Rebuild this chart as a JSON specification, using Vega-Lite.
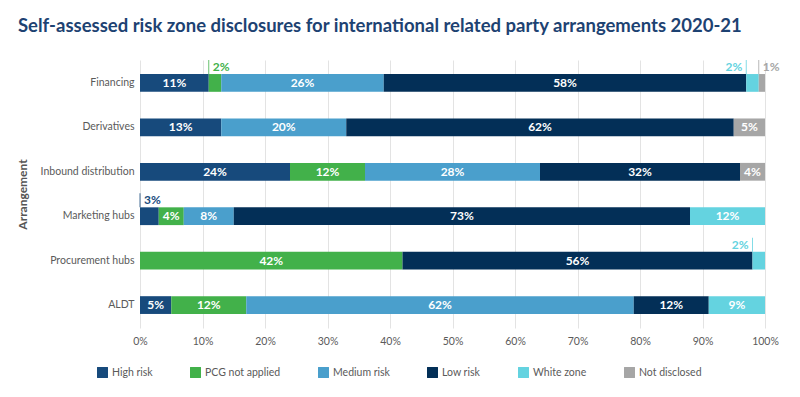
{
  "$schema": "https://vega.github.io/schema/vega-lite/v6.json",
  "width": 625,
  "height": 268,
  "autosize": "none",
  "padding": {"left": 140, "top": 60, "right": 35, "bottom": 69},
  "background": "white",
  "config": {"font": "Lato", "view": {"stroke": null}},
  "title": {
    "text": "Self-assessed risk zone disclosures for international related party arrangements 2020-21",
    "anchor": "start",
    "frame": "group",
    "dx": -122,
    "offset": 9,
    "baseline": "alphabetic",
    "fontSize": 18.5,
    "fontWeight": "bold",
    "color": "#1d4272"
  },
  "datasets": {
    "rows": [
      {"arrangement": "Financing", "category": "High risk", "value": 0.11},
      {"arrangement": "Financing", "category": "PCG not applied", "value": 0.02},
      {"arrangement": "Financing", "category": "Medium risk", "value": 0.26},
      {"arrangement": "Financing", "category": "Low risk", "value": 0.58},
      {"arrangement": "Financing", "category": "White zone", "value": 0.02},
      {"arrangement": "Financing", "category": "Not disclosed", "value": 0.01},
      {"arrangement": "Derivatives", "category": "High risk", "value": 0.13},
      {"arrangement": "Derivatives", "category": "Medium risk", "value": 0.20},
      {"arrangement": "Derivatives", "category": "Low risk", "value": 0.62},
      {"arrangement": "Derivatives", "category": "Not disclosed", "value": 0.05},
      {"arrangement": "Inbound distribution", "category": "High risk", "value": 0.24},
      {"arrangement": "Inbound distribution", "category": "PCG not applied", "value": 0.12},
      {"arrangement": "Inbound distribution", "category": "Medium risk", "value": 0.28},
      {"arrangement": "Inbound distribution", "category": "Low risk", "value": 0.32},
      {"arrangement": "Inbound distribution", "category": "Not disclosed", "value": 0.04},
      {"arrangement": "Marketing hubs", "category": "High risk", "value": 0.03},
      {"arrangement": "Marketing hubs", "category": "PCG not applied", "value": 0.04},
      {"arrangement": "Marketing hubs", "category": "Medium risk", "value": 0.08},
      {"arrangement": "Marketing hubs", "category": "Low risk", "value": 0.73},
      {"arrangement": "Marketing hubs", "category": "White zone", "value": 0.12},
      {"arrangement": "Procurement hubs", "category": "PCG not applied", "value": 0.42},
      {"arrangement": "Procurement hubs", "category": "Low risk", "value": 0.56},
      {"arrangement": "Procurement hubs", "category": "White zone", "value": 0.02},
      {"arrangement": "ALDT", "category": "High risk", "value": 0.05},
      {"arrangement": "ALDT", "category": "PCG not applied", "value": 0.12},
      {"arrangement": "ALDT", "category": "Medium risk", "value": 0.62},
      {"arrangement": "ALDT", "category": "Low risk", "value": 0.12},
      {"arrangement": "ALDT", "category": "White zone", "value": 0.09}
    ],
    "cats": [
      {"category": "High risk", "rank": 1},
      {"category": "PCG not applied", "rank": 2},
      {"category": "Medium risk", "rank": 3},
      {"category": "Low risk", "rank": 4},
      {"category": "White zone", "rank": 5},
      {"category": "Not disclosed", "rank": 6}
    ]
  },
  "data": {"name": "rows"},
  "transform": [
    {"lookup": "category", "from": {"data": {"name": "cats"}, "key": "category", "fields": ["rank"]}}
  ],
  "encoding": {
    "y": {
      "field": "arrangement",
      "type": "nominal",
      "sort": ["Financing", "Derivatives", "Inbound distribution", "Marketing hubs", "Procurement hubs", "ALDT"],
      "scale": {"paddingInner": 0.6, "paddingOuter": 0.316},
      "axis": {
        "title": "Arrangement",
        "titleFontSize": 12,
        "titleFontWeight": "bold",
        "titleColor": "#555555",
        "titleX": -111,
        "labelFontSize": 10.5,
        "labelFontWeight": "normal",
        "labelColor": "#5a5a5a",
        "labelPadding": 6,
        "ticks": false,
        "domain": false,
        "grid": false
      }
    },
    "x": {
      "field": "value",
      "type": "quantitative",
      "stack": "zero",
      "scale": {"domain": [0, 1], "nice": false},
      "axis": {
        "title": null,
        "format": ".0%",
        "values": [0, 0.1, 0.2, 0.3, 0.4, 0.5, 0.6, 0.7, 0.8, 0.9, 1],
        "labelFontSize": 10.5,
        "labelFontWeight": "normal",
        "labelColor": "#5a5a5a",
        "labelPadding": 8,
        "ticks": false,
        "domain": false,
        "grid": true,
        "gridColor": "#e3e3e3",
        "labelFlush": false
      }
    },
    "color": {
      "field": "category",
      "type": "nominal",
      "scale": {
        "domain": ["High risk", "PCG not applied", "Medium risk", "Low risk", "White zone", "Not disclosed"],
        "range": ["#174a7c", "#42b14a", "#4a9fcc", "#032f57", "#64d3e0", "#a6a6a6"]
      },
      "legend": {
        "title": null,
        "orient": "none",
        "legendX": -43,
        "legendY": 307,
        "direction": "horizontal",
        "columns": 6,
        "columnPadding": 37,
        "symbolType": "square",
        "symbolSize": 120,
        "symbolStrokeWidth": 0,
        "symbolOpacity": 1,
        "labelFontSize": 10.5,
        "labelFontWeight": "normal",
        "labelColor": "#5a5a5a",
        "labelOffset": 4
      }
    },
    "detail": {"field": "category"},
    "order": {"field": "rank", "type": "quantitative"}
  },
  "layer": [
    {"mark": {"type": "bar"}},
    {
      "mark": {"type": "text", "fontSize": 12, "fontWeight": "bold", "align": "center", "baseline": "middle"},
      "encoding": {
        "x": {"field": "value", "type": "quantitative", "stack": "zero", "bandPosition": 0.5},
        "color": {"value": "white"},
        "text": {
          "condition": {"test": "datum.value >= 0.035", "field": "value", "type": "quantitative", "format": ".0%"},
          "value": ""
        }
      }
    },
    {
      "mark": {"type": "tick", "thickness": 1, "size": 14, "yOffset": -16},
      "encoding": {
        "x": {"field": "value", "type": "quantitative", "stack": "zero", "bandPosition": 0},
        "opacity": {"condition": {"test": "datum.value <= 0.03", "value": 0.8}, "value": 0}
      }
    },
    {
      "mark": {"type": "text", "fontSize": 12, "fontWeight": "bold", "align": "left", "baseline": "alphabetic", "dx": 4, "yOffset": -12},
      "encoding": {
        "x": {"field": "value", "type": "quantitative", "stack": "zero", "bandPosition": 0},
        "text": {
          "condition": {"test": "datum.value <= 0.03 && datum.category != 'White zone'", "field": "value", "type": "quantitative", "format": ".0%"},
          "value": ""
        }
      }
    },
    {
      "mark": {"type": "text", "fontSize": 12, "fontWeight": "bold", "align": "right", "baseline": "alphabetic", "dx": -4, "yOffset": -12},
      "encoding": {
        "x": {"field": "value", "type": "quantitative", "stack": "zero", "bandPosition": 0},
        "text": {
          "condition": {"test": "datum.value <= 0.03 && datum.category == 'White zone'", "field": "value", "type": "quantitative", "format": ".0%"},
          "value": ""
        }
      }
    }
  ]
}
